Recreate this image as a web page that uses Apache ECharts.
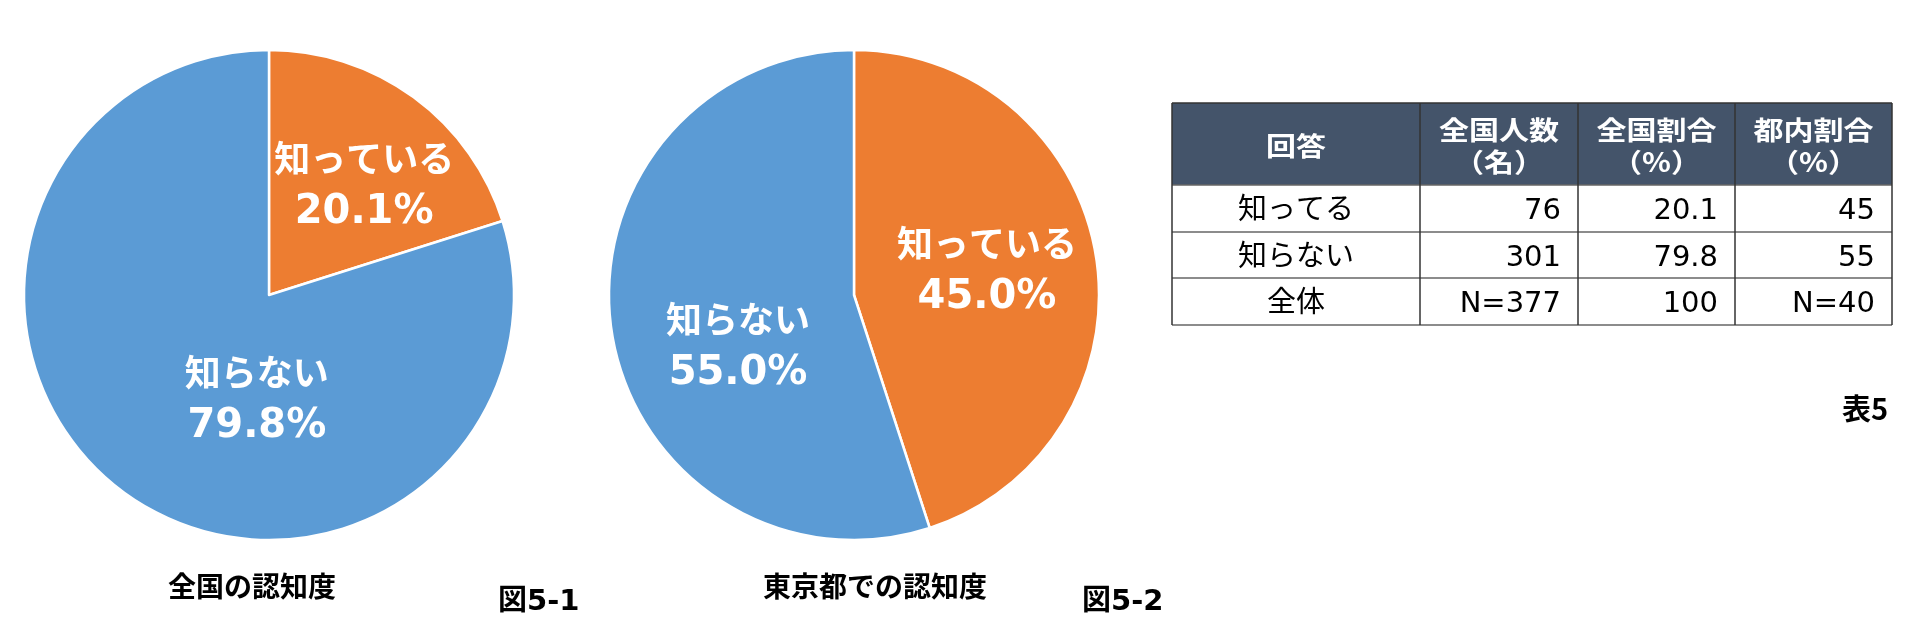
<!DOCTYPE html>
<html>
<head>
<meta charset="utf-8">
<script src="https://cdn.jsdelivr.net/npm/echarts@6/dist/echarts.min.js"></script>
<style>
html,body{margin:0;padding:0;background:#fff;}
#chart{width:1908px;height:637px;}
</style>
</head>
<body>
<div id="chart"></div>
<script>
// ---- data ----
const pieLabels = ['知っている', '知らない'];
const nationalPct = [20.1, 79.8];
const tokyoPct = [45, 55];
const pieTitles = ['全国の認知度', '東京都での認知度'];
const figureLabels = ['図5-1', '図5-2'];

const tableHeaders = ['回答', '全国人数\n（名）', '全国割合\n（%）', '都内割合\n（%）'];
const tableRows = ['知ってる', '知らない', '全体'];
const nationalCount = [76, 301];
const nationalShare = [20.1, 79.8];
const tokyoShare = [45, 55];
const tokyoN = 40;
const tableLabel = '表5';

// ---- styles / layout ----
const ORANGE = '#ED7D31', BLUE = '#5B9BD5', HEADER = '#44546A';
const colors = [ORANGE, BLUE];
const labelFont = '"DejaVu Sans", "Noto Sans CJK JP", sans-serif';
const cjkFont = '"Noto Sans CJK JP", sans-serif';

function pieSeries(values, center, offsets) {
  return {
    type: 'pie',
    center: center,
    radius: 245,
    startAngle: 90,
    clockwise: true,
    silent: true,
    animation: false,
    itemStyle: { borderColor: '#fff', borderWidth: 2.5 },
    label: {
      show: true,
      position: 'inside',
      color: '#fff',
      fontFamily: labelFont,
      fontWeight: 'bold',
      formatter: p => '{n|' + p.name + '}\n{v|' + p.value.toFixed(1) + '%}',
      rich: {
        n: { fontSize: 36, lineHeight: 50, fontWeight: 'bold', fontFamily: labelFont, color: '#fff' },
        v: { fontSize: 40, lineHeight: 50, fontWeight: 'bold', fontFamily: labelFont, color: '#fff' }
      }
    },
    labelLine: { show: false },
    data: values.map((v, i) => ({
      name: pieLabels[i],
      value: v,
      itemStyle: { color: colors[i] },
      label: { offset: offsets[i] }
    }))
  };
}

// table geometry
const colX = [1172, 1420, 1578, 1735, 1892];
const rowY = [103, 185, 232, 278, 325];

const graphics = [];
graphics.push({ type: 'rect', shape: { x: colX[0], y: rowY[0], width: colX[4] - colX[0], height: rowY[1] - rowY[0] }, style: { fill: HEADER } });
for (let r = 0; r < rowY.length; r++) {
  graphics.push({ type: 'line', shape: { x1: colX[0], y1: rowY[r], x2: colX[4], y2: rowY[r] }, style: { stroke: r === 0 ? '#333' : '#666', lineWidth: 1.5 } });
}
for (let c = 0; c < colX.length; c++) {
  graphics.push({ type: 'line', shape: { x1: colX[c], y1: rowY[0], x2: colX[c], y2: rowY[4] }, style: { stroke: '#333', lineWidth: 1.5 } });
}
tableHeaders.forEach((h, c) => {
  graphics.push({ type: 'text', x: (colX[c] + colX[c + 1]) / 2, y: (rowY[0] + rowY[1]) / 2 + 2, scaleY: 0.88,
    style: { text: h, fill: '#fff', font: 'bold 30px ' + cjkFont, lineHeight: 37, textAlign: 'center', textVerticalAlign: 'middle', align: 'center', verticalAlign: 'middle' } });
});
const totalCount = nationalCount.reduce((a, b) => a + b, 0);
const totalShare = 100;
const bodyCells = [
  [tableRows[0], String(nationalCount[0]), String(nationalShare[0]), String(tokyoShare[0])],
  [tableRows[1], String(nationalCount[1]), String(nationalShare[1]), String(tokyoShare[1])],
  [tableRows[2], 'N=' + totalCount, String(totalShare), 'N=' + tokyoN]
];
bodyCells.forEach((row, r) => {
  const cy = (rowY[r + 1] + rowY[r + 2]) / 2 + 3;
  row.forEach((txt, c) => {
    const isFirst = c === 0;
    graphics.push({ type: 'text', x: isFirst ? (colX[0] + colX[1]) / 2 : colX[c + 1] - 17, y: cy,
      style: { text: txt, fill: '#000', font: '29px ' + labelFont, textAlign: isFirst ? 'center' : 'right', textVerticalAlign: 'middle', align: isFirst ? 'center' : 'right', verticalAlign: 'middle' } });
  });
});
graphics.push({ type: 'text', x: 1888, y: 409, style: { text: tableLabel, fill: '#000', font: 'bold 29px ' + cjkFont, textAlign: 'right', textVerticalAlign: 'middle', align: 'right', verticalAlign: 'middle' } });

const titlePos = [[252, 590], [875, 590]];
const figPos = [[498, 602], [1082, 602]];
pieTitles.forEach((t, i) => {
  graphics.push({ type: 'text', x: titlePos[i][0], y: titlePos[i][1], style: { text: t, fill: '#000', font: 'bold 28px ' + labelFont, textAlign: 'center', textVerticalAlign: 'middle', align: 'center', verticalAlign: 'middle' } });
  graphics.push({ type: 'text', x: figPos[i][0], y: figPos[i][1], style: { text: figureLabels[i], fill: '#000', font: 'bold 29px ' + labelFont, textAlign: 'left', textVerticalAlign: 'middle', align: 'left', verticalAlign: 'middle' } });
});

const chart = echarts.init(document.getElementById('chart'), null, { renderer: 'canvas' });
chart.setOption({
  animation: false,
  backgroundColor: '#fff',
  series: [
    pieSeries(nationalPct, [269, 295], [[21, -6], [62, 5]]),
    pieSeries(tokyoPct, [854, 295], [[9, -3], [8, 34]])
  ],
  graphic: graphics
});
</script>
</body>
</html>
